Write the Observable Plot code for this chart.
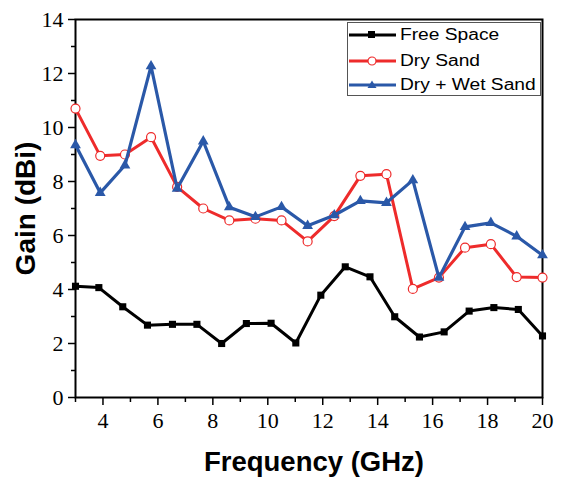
<!DOCTYPE html>
<html>
<head>
<meta charset="utf-8">
<script src="https://cdn.jsdelivr.net/npm/d3@7"></script>
<script src="https://cdn.jsdelivr.net/npm/@observablehq/plot@0.6"></script>
<style>
  html, body { margin: 0; padding: 0; background: #fff; }
  #wrap { position: relative; width: 565px; height: 477px; }
  #legend {
    position: absolute; left: 347px; top: 22px; width: 194px; height: 74px;
    box-sizing: border-box; border: 1px solid #555; background: #fff;
    font-family: "Liberation Sans", Arial, sans-serif; font-size: 16px; color: #000;
  }
  .row { position: absolute; left: 0; height: 20px; display: flex; align-items: center; }
  .row svg { display: block; }
  .row span { display: inline-block; margin-left: 4px; transform: scaleX(1.2); transform-origin: left center; white-space: nowrap; }
</style>
</head>
<body>
<div id="wrap"></div>
<script>
// Frequency points (GHz) for the free-space measurement
const freqFree = [3, 3.85, 4.72, 5.62, 6.53, 7.42, 8.32, 9.22, 10.12, 11.02,
                  11.93, 12.82, 13.72, 14.62, 15.52, 16.42, 17.33, 18.23, 19.12, 20];
const gainFree = [4.12, 4.07, 3.36, 2.68, 2.71, 2.71, 2.0, 2.74, 2.75, 2.02,
                  3.79, 4.84, 4.47, 2.99, 2.24, 2.43, 3.2, 3.33, 3.26, 2.28];

// Frequency points (GHz) for the sand measurements
const freqSand = [3, 3.9, 4.8, 5.75, 6.7, 7.65, 8.6, 9.55, 10.5, 11.45,
                  12.42, 13.37, 14.32, 15.28, 16.23, 17.18, 18.12, 19.06, 20];
const gainDry = [10.7, 8.95, 9.0, 9.64, 7.8, 7.0, 6.56, 6.62, 6.56, 5.78,
                 6.72, 8.21, 8.27, 4.02, 4.44, 5.55, 5.68, 4.46, 4.44];
const gainWet = [9.35, 7.58, 8.6, 12.27, 7.74, 9.49, 7.05, 6.69, 7.06, 6.36,
                 6.75, 7.28, 7.21, 8.05, 4.44, 6.32, 6.47, 5.97, 5.27];

const seriesNames = ["Free Space", "Dry Sand", "Dry + Wet Sand"];
const xTicks = [4, 6, 8, 10, 12, 14, 16, 18, 20];
const xMinor = [3, 5, 7, 9, 11, 13, 15, 17, 19];
const yTicks = [0, 2, 4, 6, 8, 10, 12, 14];
const yMinor = [1, 3, 5, 7, 9, 11, 13];

const BLACK = "#000000", RED = "#ee2b2b", BLUE = "#2a58a8";

const free = freqFree.map((f, i) => ({f, g: gainFree[i]}));
const dry = freqSand.map((f, i) => ({f, g: gainDry[i]}));
const wet = freqSand.map((f, i) => ({f, g: gainWet[i]}));

const serif = "'Liberation Serif', 'Times New Roman', serif";
const sans = "'Liberation Sans', Arial, sans-serif";

const chart = Plot.plot({
  width: 565,
  height: 477,
  marginLeft: 75,
  marginRight: 23,
  marginTop: 19,
  marginBottom: 80,
  style: {fontFamily: serif, fontSize: "22px", color: "#000", background: "#fff"},
  x: {domain: [3, 20]},
  y: {domain: [0, 14]},
  marks: [
    Plot.axisX({ticks: xTicks, tickSize: 8, tickPadding: 7, label: null, fontSize: 22, strokeWidth: 1.5}),
    Plot.axisX({ticks: xMinor, tickSize: 5, tickFormat: () => "", label: null, strokeWidth: 1.5}),
    Plot.axisY({ticks: yTicks, tickSize: 7, tickPadding: 5, label: null, fontSize: 22, strokeWidth: 1.5}),
    Plot.axisY({ticks: yMinor, tickSize: 4, tickFormat: () => "", label: null, strokeWidth: 1.5}),
    Plot.frame({stroke: BLACK, strokeWidth: 2}),

    Plot.line(free, {x: "f", y: "g", stroke: BLACK, strokeWidth: 3}),
    Plot.dot(free, {x: "f", y: "g", symbol: "square", r: 4, fill: BLACK}),

    Plot.line(dry, {x: "f", y: "g", stroke: RED, strokeWidth: 3}),
    Plot.dot(dry, {x: "f", y: "g", symbol: "circle", r: 4.5, fill: "#fff", stroke: RED, strokeWidth: 1.2}),

    Plot.line(wet, {x: "f", y: "g", stroke: BLUE, strokeWidth: 3.2}),
    Plot.dot(wet, {x: "f", y: "g", symbol: "triangle", r: 4, fill: BLUE}),

    Plot.text(["Frequency (GHz)"], {frameAnchor: "bottom", dy: 65, dx: 5, text: d => d,
      textAnchor: "middle", fontFamily: sans, fontWeight: "bold", fontSize: 27.5, lineAnchor: "middle", fill: BLACK}),
    Plot.text(["Gain (dBi)"], {frameAnchor: "left", dx: -49, rotate: -90, text: d => d,
      textAnchor: "middle", fontFamily: sans, fontWeight: "bold", fontSize: 28, lineAnchor: "middle", fill: BLACK})
  ]
});

const wrap = document.getElementById("wrap");
wrap.appendChild(chart);

// Legend box in the upper-right corner of the plot area
const legend = document.createElement("div");
legend.id = "legend";
const swatches = [
  {color: BLACK, marker: `<rect x="20" y="6" width="7" height="7" fill="${BLACK}"/>`},
  {color: RED, marker: `<circle cx="24" cy="10" r="4" fill="#fff" stroke="${RED}" stroke-width="1.2"/>`},
  {color: BLUE, marker: `<path d="M24,5.5 L28.5,13 L19.5,13 Z" fill="${BLUE}"/>`}
];
const rowTops = [1.5, 27.5, 52];
seriesNames.forEach((name, i) => {
  const row = document.createElement("div");
  row.className = "row";
  row.style.top = rowTops[i] + "px";
  row.innerHTML = `<svg width="48" height="20"><line x1="1" y1="10" x2="48" y2="10" stroke="${swatches[i].color}" stroke-width="3"/>${swatches[i].marker}</svg><span>${name}</span>`;
  legend.appendChild(row);
});
wrap.appendChild(legend);
</script>
</body>
</html>
